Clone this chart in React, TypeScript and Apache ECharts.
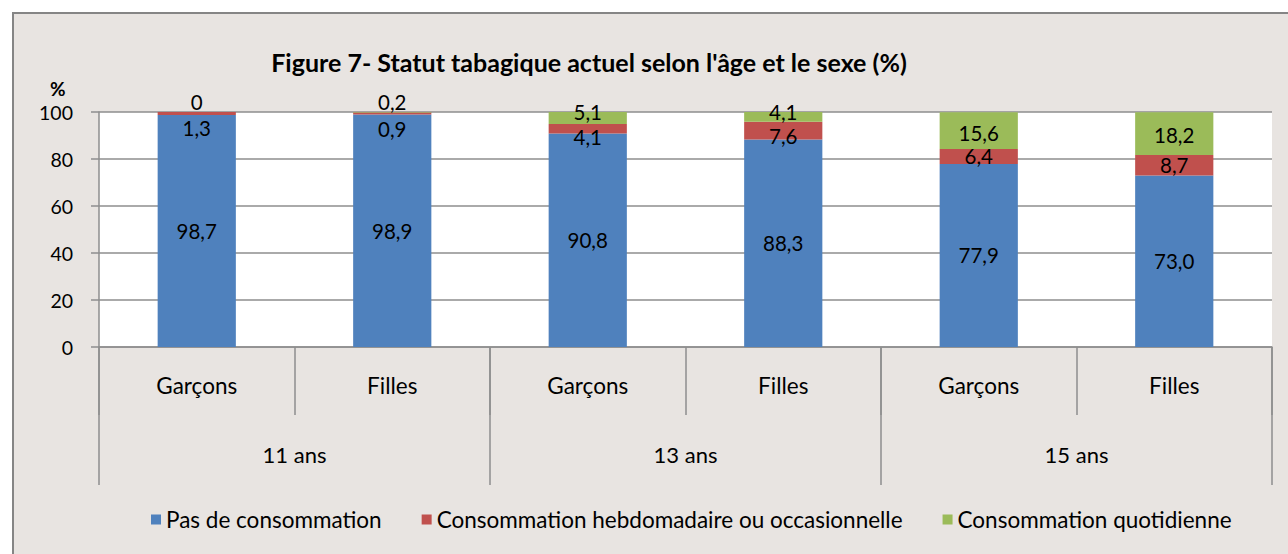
import React, { useEffect, useRef } from "react";
import * as echarts from "echarts";

const categories = ["Garçons", "Filles", "Garçons", "Filles", "Garçons", "Filles"];
const groups = ["11 ans", "13 ans", "15 ans"];
const pasDeConsommation = [98.7, 98.9, 90.8, 88.3, 77.9, 73.0];
const hebdomadaire = [1.3, 0.9, 4.1, 7.6, 6.4, 8.7];
const quotidienne = [0, 0.2, 5.1, 4.1, 15.6, 18.2];
const yTicks = [0, 20, 40, 60, 80, 100];

const FONT = "Lato";
const GRID = "#8e8e8e";

const fmt = (v: number) => (v === 0 ? "0" : v.toFixed(1).replace(".", ","));

// label nudges to mimic the reference placement of small segments
const redOffsets = [14, 15, 8, 5, 0, 0];
const greenOffsets = [0, 0, -6, -5, 2, 1];

export default function App() {
  const ref = useRef<HTMLDivElement>(null);
  useEffect(() => {
    if (!ref.current) return;
    const chart = echarts.init(ref.current, null, { renderer: "svg" });
    const labelBase = {
      show: true,
      color: "#000",
      fontFamily: FONT,
      fontSize: 20.5,
      lineHeight: 17,
      formatter: (p: any) => fmt(p.value),
    };
    chart.setOption({
      animation: false,
      backgroundColor: "transparent",
      textStyle: { fontFamily: FONT },
      title: [
        {
          text: "Figure 7- Statut tabagique actuel selon l'âge et le sexe (%)",
          left: 584,
          top: 44,
          textAlign: "center",
          textStyle: { fontFamily: FONT, fontWeight: "bold", fontSize: 25, color: "#000" },
        },
        {
          text: "%",
          left: 45,
          top: 74,
          textStyle: { fontFamily: FONT, fontWeight: "bold", fontSize: 19, color: "#000" },
        },
      ],
      legend: {
        left: 146,
        top: 503,
        itemWidth: 10,
        itemHeight: 10,
        itemGap: 40,
        icon: "rect",
        textStyle: { fontFamily: FONT, fontSize: 22.5, color: "#000" },
        data: [
          "Pas de consommation",
          "Consommation hebdomadaire ou occasionnelle",
          "Consommation quotidienne",
        ],
      },
      grid: {
        left: 99,
        right: 16,
        top: 112,
        bottom: 207,
        show: true,
        backgroundColor: "#ffffff",
        borderWidth: 0,
      },
      xAxis: [
        {
          type: "category",
          data: categories,
          position: "bottom",
          axisLine: { show: true, lineStyle: { color: GRID, width: 1.5 } },
          axisTick: { show: true, interval: 0, length: 68, lineStyle: { color: GRID, width: 1.5 } },
          axisLabel: { interval: 0, margin: 27, color: "#000", fontFamily: FONT, fontSize: 22.5 },
        },
        {
          type: "category",
          data: groups,
          position: "bottom",
          axisLine: { show: false },
          axisTick: { show: true, interval: 0, length: 138, lineStyle: { color: GRID, width: 1.5 } },
          axisLabel: { interval: 0, margin: 96, color: "#000", fontFamily: FONT, fontSize: 22 },
        },
      ],
      yAxis: {
        type: "value",
        min: yTicks[0],
        max: yTicks[yTicks.length - 1],
        interval: yTicks[1] - yTicks[0],
        axisLine: { show: true, lineStyle: { color: GRID, width: 1.5 } },
        axisTick: { show: true, length: 8, lineStyle: { color: GRID, width: 1.5 } },
        splitLine: { show: true, lineStyle: { color: GRID, width: 1.5 } },
        axisLabel: { margin: 26, color: "#000", fontFamily: FONT, fontSize: 19.5 },
      },
      series: [
        {
          name: "Pas de consommation",
          type: "bar",
          stack: "total",
          barWidth: "40%",
          itemStyle: { color: "#4f81bd" },
          label: { ...labelBase, position: "inside" },
          data: pasDeConsommation,
        },
        {
          name: "Consommation hebdomadaire ou occasionnelle",
          type: "bar",
          stack: "total",
          itemStyle: { color: "#c0504d" },
          label: { ...labelBase, position: "inside" },
          data: hebdomadaire.map((v, i) => ({ value: v, label: { offset: [0, redOffsets[i]] } })),
        },
        {
          name: "Consommation quotidienne",
          type: "bar",
          stack: "total",
          itemStyle: { color: "#9bbb59" },
          label: { ...labelBase, position: "inside" },
          data: quotidienne.map((v, i) =>
            v < 1
              ? { value: v, label: { position: "top", distance: 2 } }
              : { value: v, label: { offset: [0, greenOffsets[i]] } }
          ),
        },
      ],
    });
    return () => chart.dispose();
  }, []);

  return (
    <div style={{ position: "fixed", left: 0, top: 0, width: 1288, height: 554, background: "#fff" }}>
      <div
        style={{
          position: "absolute",
          left: 12,
          top: 12,
          right: 0,
          bottom: 0,
          background: "#e8e4e1",
          borderTop: "2px solid #858585",
          borderLeft: "2px solid #858585",
        }}
      />
      <div ref={ref} style={{ position: "absolute", left: 0, top: 0, width: 1288, height: 554 }} />
    </div>
  );
}
